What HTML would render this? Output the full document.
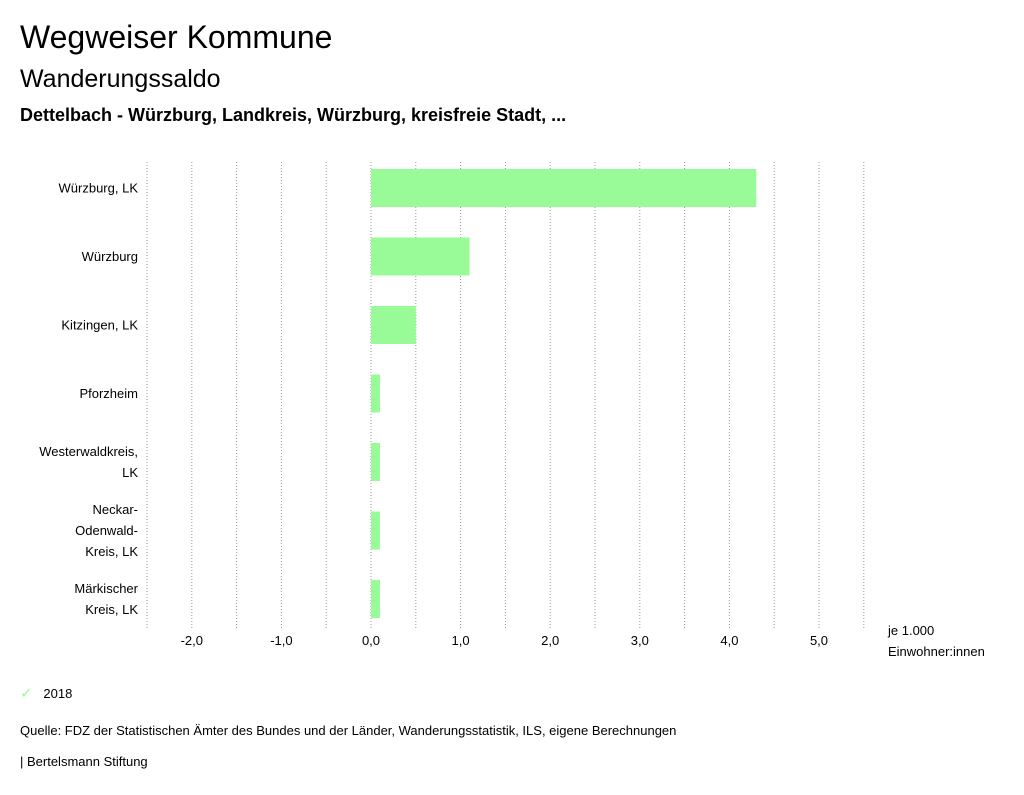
<!DOCTYPE html>
<html><head><meta charset="utf-8">
<style>
body{margin:0;width:1024px;height:795px;background:#fff;font-family:"Liberation Sans",sans-serif;color:#000;overflow:hidden;position:relative}
.t{position:absolute;white-space:nowrap}
</style></head><body>
<div class="t" style="left:20px;top:19px;font-size:32px">Wegweiser Kommune</div>
<div class="t" style="left:20px;top:65px;font-size:25px">Wanderungssaldo</div>
<div class="t" style="left:20px;top:105px;font-size:18px;font-weight:bold">Dettelbach - Würzburg, Landkreis, Würzburg, kreisfreie Stadt, ...</div>
<svg id="chart" width="1024" height="680" style="position:absolute;left:0;top:0" font-family="Liberation Sans, sans-serif" font-size="13"></svg>
<div class="t" style="left:20px;top:684px;font-size:13px"><span style="color:#98fb98;font-size:15px">✓</span>&nbsp;&nbsp;&nbsp;2018</div>
<div class="t" style="left:20px;top:723px;font-size:13px">Quelle: FDZ der Statistischen Ämter des Bundes und der Länder, Wanderungsstatistik, ILS, eigene Berechnungen</div>
<div class="t" style="left:20px;top:754px;font-size:13px">| Bertelsmann Stiftung</div>
<script>
const categories=[["Würzburg, LK"],["Würzburg"],["Kitzingen, LK"],["Pforzheim"],["Westerwaldkreis,","LK"],["Neckar-","Odenwald-","Kreis, LK"],["Märkischer","Kreis, LK"]];
const values=[4.3,1.1,0.5,0.1,0.1,0.1,0.1];
const ticks=[-2,-1,0,1,2,3,4,5];
const tickLabels=["-2,0","-1,0","0,0","1,0","2,0","3,0","4,0","5,0"];
const svg=document.getElementById('chart');const NS='http://www.w3.org/2000/svg';
const x=v=>371+v*89.6;
const bandTop=162,band=68.5;
function mk(t,a){const e=document.createElementNS(NS,t);for(const k in a)e.setAttribute(k,a[k]);svg.appendChild(e);return e;}
for(let g=-2.5;g<=5.5;g+=0.5){
const l=mk('line',{x1:x(g),x2:x(g),y1:162,y2:628,stroke:'#999','stroke-dasharray':'1,2'});

}
ticks.forEach((t,i)=>{const e=mk('text',{x:x(t),y:645,'text-anchor':'middle'});e.textContent=tickLabels[i];

});
const u1=mk('text',{x:888,y:635});u1.textContent='je 1.000';


const u2=mk('text',{x:888,y:656});u2.textContent='Einwohner:innen';


values.forEach((v,i)=>{const y0=bandTop+i*band+7;
const r=mk('rect',{x:Math.min(x(0),x(v)),y:y0,width:Math.abs(x(v)-x(0)),height:38,fill:'#98fb98'});


const lines=categories[i];const cy=y0+19;
lines.forEach((s,j)=>{const e=mk('text',{x:138,y:cy+4.5+(j-(lines.length-1)/2)*21,'text-anchor':'end'});e.textContent=s;

});
});
</script>
</body></html>
